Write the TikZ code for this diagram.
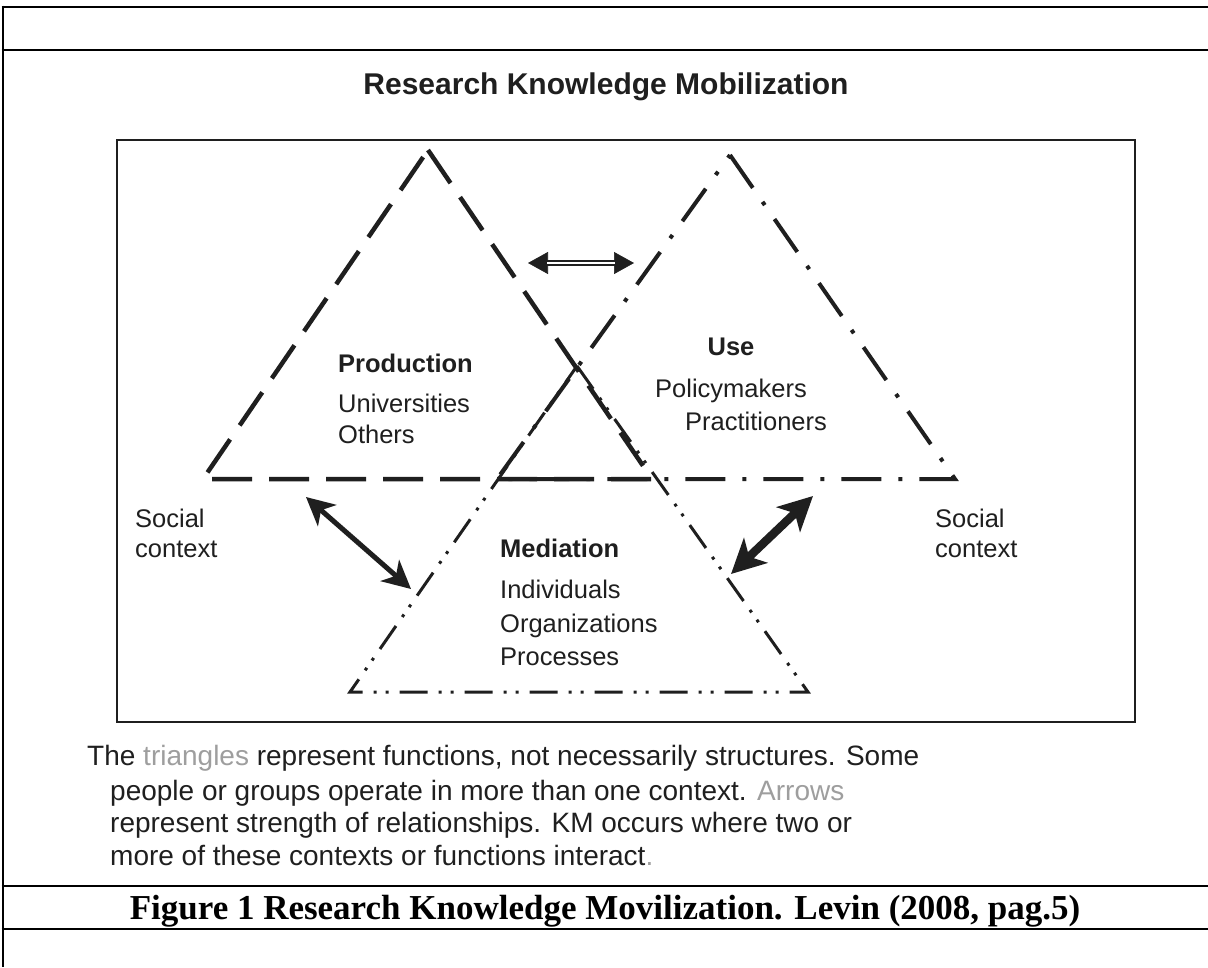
\documentclass[tikz,border=0pt]{standalone}
\usepackage{fontspec}
\setmainfont{Liberation Sans}
\newfontfamily\serifcap{Liberation Serif}
\usetikzlibrary{arrows.meta}
\definecolor{ink}{gray}{0.12}
\definecolor{faint}{gray}{0.62}
\begin{document}
\begin{tikzpicture}[x=1pt,y=-1pt,
  frameline/.style={line width=2.6pt, black},
  prodline/.style={line width=4.5pt, ink, dash pattern=on 40pt off 17pt},
  useline/.style={line width=4pt, ink, dash pattern=on 40pt off 17pt on 4pt off 17pt},
  medline/.style={line width=3pt, ink, dash pattern=on 28pt off 11pt on 3pt off 9pt on 3pt off 11pt},
  lbl/.style={anchor=base west, inner sep=0pt, text=ink, font=\fontsize{25.5}{30}\selectfont},
  lblb/.style={anchor=base west, inner sep=0pt, text=ink, font=\fontsize{25.5}{30}\selectfont\bfseries},
  note/.style={anchor=base west, inner sep=0pt, text=ink, font=\fontsize{28}{33}\selectfont},
  dblshaft/.style={line width=2pt, ink, double=white, double distance=2.4pt},
  lefttips/.style={line width=5pt, ink, {Stealth[length=28pt,width=28pt,inset=8pt]}-{Stealth[length=28pt,width=28pt,inset=8pt]}},
  righttips/.style={line width=8.5pt, ink, {Stealth[length=34pt,width=34pt,inset=9pt]}-{Stealth[length=34pt,width=34pt,inset=9pt]}},
]
\useasboundingbox (0,0) rectangle (1208,967);
\fill[white] (0,0) rectangle (1208,967);

% table rules around the figure
\draw[frameline] (3,5.7) -- (3,967);
\draw[frameline] (1.7,7) -- (1208,7);
\draw[frameline] (1.7,50) -- (1208,50);
\draw[frameline] (1.7,886) -- (1208,886);
\draw[frameline] (1.7,929) -- (1208,929);

% title
\node[anchor=base, inner sep=0pt, text=ink, font=\fontsize{30}{36}\selectfont\bfseries] (title) at (606,94) {Research Knowledge Mobilization};

% inner frame
\draw[line width=2.6pt, ink] (117,140) rectangle (1135,722);

% triangle corners
\coordinate (pA) at (428,150);
\coordinate (pL) at (203,479);
\coordinate (pR) at (652,479);
\coordinate (uA) at (730,155);
\coordinate (uL) at (497,479);
\coordinate (uR) at (955,479);
\coordinate (mA) at (577,366);
\coordinate (mL) at (350,692);
\coordinate (mR) at (808,692);

% the three function triangles
\draw[prodline] (pA) -- (pR) -- (pL) -- cycle;
\draw[useline] (uA) -- (uR) -- (uL) -- cycle;
\draw[medline] (mA) -- (mR) -- (mL) -- cycle;

% arrows between the functions
\coordinate (ta) at (528,263);
\coordinate (tb) at (634,263);
\draw[line width=0.6pt, ink, {Triangle[length=20pt,width=22pt]}-{Triangle[length=20pt,width=22pt]}] (ta) -- (tb);
\draw[dblshaft, shorten <=19pt, shorten >=19pt] (ta) -- (tb);

\coordinate (la) at (306,497);
\coordinate (lb) at (411,589);
\draw[lefttips] (la) -- (lb);

\coordinate (ra) at (813,496);
\coordinate (rb) at (731,574);
\draw[righttips] (ra) -- (rb);

% labels
\node[lblb] (prod) at (338,372) {Production};
\node[lbl] (univ) at (338,412) {Universities};
\node[lbl] (oth) at (338,443) {Others};

\node[anchor=base, inner sep=0pt, text=ink, font=\fontsize{25.5}{30}\selectfont\bfseries] (use) at (731,355) {Use};
\node[lbl] (pol) at (655,397) {Policymakers};
\node[lbl] (prac) at (685,430) {Practitioners};

\node[lblb] (med) at (500,557) {Mediation};
\node[lbl] (ind) at (500,598) {Individuals};
\node[lbl] (org) at (500,632) {Organizations};
\node[lbl] (proc) at (500,665) {Processes};

\node[lbl] (socl1) at (135,527) {Social};
\node[lbl] (socl2) at (135,557) {context};
\node[lbl] (socr1) at (935,527) {Social};
\node[lbl] (socr2) at (935,557) {context};

% note under the figure
\node[note] (n1) at (87,765) {The \textcolor{faint}{triangles} represent functions, not necessarily structures. Some};
\node[note] (n2) at (110,800) {people or groups operate in more than one context. \textcolor{faint}{Arrows}};
\node[note] (n3) at (110,832) {represent strength of relationships. KM occurs where two or};
\node[note] (n4) at (110,865) {more of these contexts or functions interact\textcolor{faint}{.}};

% caption
\node[anchor=base, inner sep=0pt, font=\serifcap\bfseries\fontsize{35}{40}\selectfont] (cap) at (605,919) {Figure 1 Research Knowledge Movilization. Levin (2008, pag.5)};
\end{tikzpicture}
\end{document}
